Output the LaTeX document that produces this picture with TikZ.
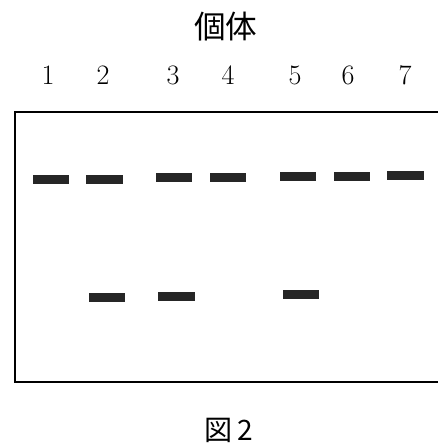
\documentclass[tikz,border=0pt]{standalone}
\usepackage{fontspec}
\newfontfamily\jpfont{Noto Sans CJK JP}
\begin{document}
\begin{tikzpicture}[x=0.02cm,y=-0.02cm,
  band/.style={fill=black!85,inner sep=0pt,minimum width=0.74cm,minimum height=0.18cm},
  lanelabel/.style={font=\fontsize{16}{16}\selectfont}]
\useasboundingbox (0,0) rectangle (438,444);

\node[font=\jpfont\fontsize{18}{18}\selectfont] (title) at (226,27) {個体};

% lane numbers
\foreach \i/\x in {1/48,2/103,3/173,4/228,5/295,6/348,7/405}
  \node[lanelabel] (lane\i) at (\x,75) {\i};

% gel frame (open on the right)
\coordinate (tr) at (438,112);
\coordinate (tl) at (15,112);
\coordinate (bl) at (15,382);
\coordinate (br) at (438,382);
\draw[line width=0.8pt] (tr) -- (tl) -- (bl) -- (br);

% upper bands
\foreach \i/\x/\y in {1/51/179.5,2/104.5/179,3/174/177.5,4/228/177.5,5/298/176.5,6/352/176.5,7/405.5/175}
  \node[band] (up\i) at (\x,\y) {};

% lower bands
\foreach \i/\x/\y in {2/107/297.5,3/176.5/296.5,5/301/294.5}
  \node[band] (low\i) at (\x,\y) {};

\node[font=\jpfont\fontsize{16}{16}\selectfont] (caption) at (229,430) {図\,2};
\end{tikzpicture}
\end{document}
